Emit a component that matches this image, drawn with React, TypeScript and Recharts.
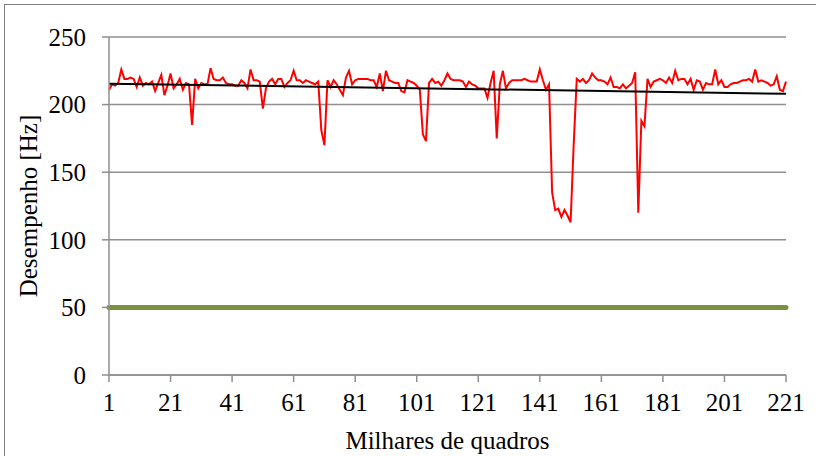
import { LineChart, Line, XAxis, YAxis, CartesianGrid, ReferenceLine } from "recharts"

// desempenho (Hz) por milhar de quadros
const fps = [
  211, 215, 214, 216, 226, 219, 219, 220, 219, 213,
  220, 214, 216, 215, 217, 210, 216, 222, 207, 214,
  223, 212, 215, 219, 211, 216, 215, 185, 219, 212,
  216, 215, 215, 227, 219, 218, 218, 220, 216, 215,
  215, 214, 214, 218, 216, 212, 226, 218, 218, 217,
  197, 212, 217, 219, 215, 219, 219, 213, 216, 218,
  225, 218, 218, 216, 218, 217, 216, 215, 217, 181,
  170, 218, 213, 218, 215, 211, 207, 220, 225, 215,
  218, 219, 219, 219, 219, 218, 218, 213, 223, 210,
  225, 218, 217, 216, 216, 210, 209, 218, 217, 216,
  214, 211, 178, 173, 216, 219, 216, 217, 214, 218,
  223, 219, 218, 218, 218, 217, 213, 217, 215, 214,
  212, 212, 212, 205, 216, 225, 175, 215, 225, 212,
  216, 218, 218, 218, 218, 219, 218, 217, 217, 217,
  226, 218, 211, 215, 135, 122, 123, 117, 122, 118,
  113, 170, 219, 217, 219, 216, 218, 223, 220, 218,
  218, 217, 215, 220, 213, 213, 212, 215, 212, 214,
  216, 224, 120, 188, 184, 219, 213, 217, 218, 219,
  218, 216, 220, 216, 225, 218, 219, 219, 215, 219,
  211, 218, 217, 211, 216, 215, 215, 226, 215, 218,
  213, 213, 215, 216, 216, 217, 218, 218, 219, 217,
  226, 217, 218, 217, 216, 214, 215, 221, 211, 210,
  217,
]

const xTicks = [1, 21, 41, 61, 81, 101, 121, 141, 161, 181, 201, 221]
const yTicks = [0, 50, 100, 150, 200, 250]

// linha de tendencia (extremos) e minimo de 50 Hz
const trendStart = 215.5
const trendEnd = 208
const limite = 50

const data = fps.map((v, i) => ({ quadro: i + 1, fps: v }))

const font = "Times New Roman, Liberation Serif, DejaVu Serif, serif"

export default function App() {
  return (
    <div
      style={{
        position: "absolute",
        left: 0,
        top: 0,
        width: 816,
        height: 456,
        background: "#fff",
      }}
    >
      <div
        style={{
          position: "absolute",
          left: 4,
          top: 4,
          right: 0,
          bottom: 0,
          borderLeft: "1px solid #7f7f7f",
          borderTop: "1px solid #7f7f7f",
        }}
      />
      <LineChart
        width={816}
        height={456}
        data={data}
        margin={{ top: 37, right: 30, bottom: 0, left: 0 }}
        style={{ position: "absolute", left: 0, top: 0 }}
      >
        <CartesianGrid vertical={false} stroke="#8f8f8f" strokeWidth={1.5} />
        <XAxis
          dataKey="quadro"
          type="number"
          domain={[1, 221]}
          ticks={xTicks}
          interval={0}
          height={81}
          stroke="#8f8f8f"
          strokeWidth={1.5}
          tickSize={7}
          tickMargin={11}
          tick={{ fill: "#000", fontSize: 25, style: { fontFamily: font } }}
          label={{
            value: "Milhares de quadros",
            position: "insideBottom",
            offset: 7,
            fill: "#000",
            fontSize: 25,
            style: { fontFamily: font },
          }}
        />
        <YAxis
          type="number"
          domain={[0, 250]}
          ticks={yTicks}
          width={109}
          stroke="#8f8f8f"
          strokeWidth={1.5}
          tickSize={7}
          tickMargin={16}
          tick={{ fill: "#000", fontSize: 25, style: { fontFamily: font } }}
          label={{
            content: ({ viewBox }: any) => (
              <text
                x={viewBox.x + 28}
                y={viewBox.y + viewBox.height / 2}
                transform={`rotate(-90, ${viewBox.x + 28}, ${viewBox.y + viewBox.height / 2})`}
                textAnchor="middle"
                dominantBaseline="central"
                fill="#000"
                fontSize={25}
                style={{ fontFamily: font }}
              >
                Desempenho [Hz]
              </text>
            ),
          }}
        />
        <ReferenceLine y={limite} stroke="#77933C" strokeWidth={5} strokeLinecap="round" />
        <Line
          dataKey="fps"
          stroke="#ff0000"
          strokeWidth={2}
          dot={false}
          activeDot={false}
          isAnimationActive={false}
        />
        <ReferenceLine
          segment={[
            { x: 1, y: trendStart },
            { x: 221, y: trendEnd },
          ]}
          stroke="#000"
          strokeWidth={2}
        />
      </LineChart>
    </div>
  )
}
